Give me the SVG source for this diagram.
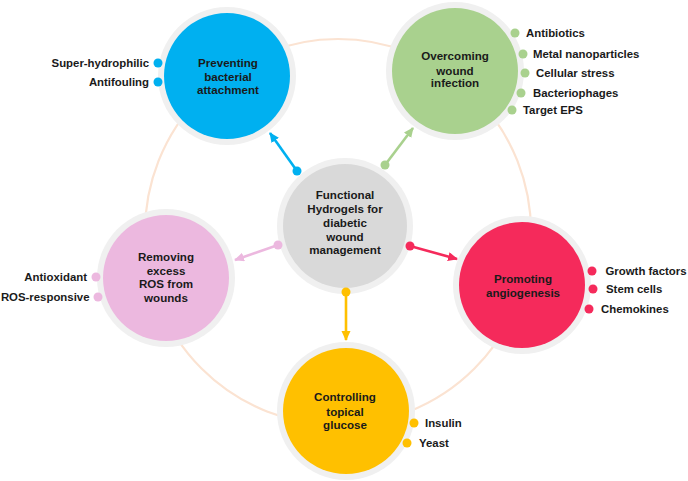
<svg xmlns="http://www.w3.org/2000/svg" width="688" height="481" viewBox="0 0 688 481">
<defs>
<style>
.ring{fill:none;stroke:#fbe3d2;stroke-width:2.2}
.bd{fill:#f0f0f0}
.t{font-family:"Liberation Sans",Arial,sans-serif;font-weight:bold;font-size:11.6px;fill:#1a1a1a;text-anchor:middle}
.l{font-family:"Liberation Sans",Arial,sans-serif;font-weight:bold;font-size:11.4px;fill:#1a1a1a}
.r{text-anchor:end}
.ln{stroke-width:2.6;fill:none}
</style>
<marker id="mb" markerUnits="userSpaceOnUse" markerWidth="12" markerHeight="10" refX="9" refY="4.5" orient="auto"><path d="M0,0L10,4.5L0,9z" fill="#00b0f0"/></marker>
<marker id="mg" markerUnits="userSpaceOnUse" markerWidth="12" markerHeight="10" refX="9" refY="4.5" orient="auto"><path d="M0,0L10,4.5L0,9z" fill="#a9d18e"/></marker>
<marker id="mp" markerUnits="userSpaceOnUse" markerWidth="12" markerHeight="10" refX="9" refY="4.5" orient="auto"><path d="M0,0L10,4.5L0,9z" fill="#ecb8df"/></marker>
<marker id="mr" markerUnits="userSpaceOnUse" markerWidth="12" markerHeight="10" refX="9" refY="4.5" orient="auto"><path d="M0,0L10,4.5L0,9z" fill="#f52a5b"/></marker>
<marker id="my" markerUnits="userSpaceOnUse" markerWidth="12" markerHeight="10" refX="9" refY="4.5" orient="auto"><path d="M0,0L10,4.5L0,9z" fill="#ffc000"/></marker>
</defs>
<rect width="688" height="481" fill="#ffffff"/>
<circle class="ring" cx="338" cy="232" r="193"/>

<g id="center">
<circle class="bd" cx="345" cy="226" r="68"/>
<circle cx="345" cy="226" r="62" fill="#d9d9d9"/>
<text class="t" x="345" y="199">Functional</text>
<text class="t" x="345" y="213">Hydrogels for</text>
<text class="t" x="345" y="227">diabetic</text>
<text class="t" x="345" y="241">wound</text>
<text class="t" x="345" y="254">management</text>
</g>

<g id="blue">
<circle class="bd" cx="227" cy="76" r="69"/>
<circle cx="227" cy="76" r="63" fill="#00b0f0"/>
<text class="t" x="228" y="67">Preventing</text>
<text class="t" x="228" y="81">bacterial</text>
<text class="t" x="228" y="94">attachment</text>
<circle cx="158" cy="63" r="4.5" fill="#00b0f0"/>
<circle cx="158" cy="82" r="4.5" fill="#00b0f0"/>
<text class="l r" x="149" y="67">Super-hydrophilic</text>
<text class="l r" x="149" y="86">Antifouling</text>
</g>

<g id="green">
<circle class="bd" cx="455" cy="71" r="69"/>
<circle cx="455" cy="71" r="63" fill="#a9d18e"/>
<text class="t" x="455" y="60">Overcoming</text>
<text class="t" x="455" y="75">wound</text>
<text class="t" x="455" y="87">infection</text>
<circle cx="515" cy="33" r="4.5" fill="#a9d18e"/>
<circle cx="523" cy="54" r="4.5" fill="#a9d18e"/>
<circle cx="525" cy="73" r="4.5" fill="#a9d18e"/>
<circle cx="521" cy="93" r="4.5" fill="#a9d18e"/>
<circle cx="512" cy="110" r="4.5" fill="#a9d18e"/>
<text class="l" x="526" y="37">Antibiotics</text>
<text class="l" x="533" y="58">Metal nanoparticles</text>
<text class="l" x="536" y="77">Cellular stress</text>
<text class="l" x="533" y="97">Bacteriophages</text>
<text class="l" x="523" y="114">Target EPS</text>
</g>

<g id="pink">
<circle class="bd" cx="166" cy="278" r="69"/>
<circle cx="166" cy="278" r="63" fill="#ecb8df"/>
<text class="t" x="166" y="261">Removing</text>
<text class="t" x="166" y="275">excess</text>
<text class="t" x="166" y="288">ROS from</text>
<text class="t" x="166" y="302">wounds</text>
<circle cx="96" cy="277" r="4.5" fill="#ecb8df"/>
<circle cx="98" cy="297" r="4.5" fill="#ecb8df"/>
<text class="l r" x="87" y="281">Antioxidant</text>
<text class="l r" x="89.5" y="301">ROS-responsive</text>
</g>

<g id="red">
<circle class="bd" cx="522" cy="285" r="69"/>
<circle cx="522" cy="285" r="63" fill="#f52a5b"/>
<text class="t" x="523" y="283">Promoting</text>
<text class="t" x="523" y="297">angiogenesis</text>
<circle cx="592" cy="271" r="4.5" fill="#f52a5b"/>
<circle cx="593" cy="289" r="4.5" fill="#f52a5b"/>
<circle cx="589" cy="309" r="4.5" fill="#f52a5b"/>
<text class="l" x="605.5" y="275">Growth factors</text>
<text class="l" x="606" y="293">Stem cells</text>
<text class="l" x="601" y="313">Chemokines</text>
</g>

<g id="yellow">
<circle class="bd" cx="346" cy="411" r="69"/>
<circle cx="346" cy="411" r="63" fill="#ffc000"/>
<text class="t" x="345" y="401">Controlling</text>
<text class="t" x="345" y="416">topical</text>
<text class="t" x="345" y="429">glucose</text>
<circle cx="414" cy="423" r="4.5" fill="#ffc000"/>
<circle cx="407" cy="443" r="4.5" fill="#ffc000"/>
<text class="l" x="425" y="427">Insulin</text>
<text class="l" x="419" y="447">Yeast</text>
</g>

<g id="connectors">
<line class="ln" x1="297" y1="171" x2="270" y2="133" stroke="#00b0f0" marker-end="url(#mb)"/>
<circle cx="297" cy="171" r="4.5" fill="#00b0f0"/>
<line class="ln" x1="385" y1="165" x2="413" y2="128" stroke="#a9d18e" marker-end="url(#mg)"/>
<circle cx="385" cy="165" r="4.5" fill="#a9d18e"/>
<line class="ln" x1="278" y1="245" x2="235" y2="260" stroke="#ecb8df" marker-end="url(#mp)"/>
<circle cx="278" cy="245" r="4.5" fill="#ecb8df"/>
<line class="ln" x1="410" y1="246" x2="457" y2="259" stroke="#f52a5b" marker-end="url(#mr)"/>
<circle cx="410" cy="246" r="4.5" fill="#f52a5b"/>
<line class="ln" x1="346" y1="292" x2="346" y2="340" stroke="#ffc000" marker-end="url(#my)"/>
<circle cx="346" cy="292" r="4.5" fill="#ffc000"/>
</g>
</svg>
